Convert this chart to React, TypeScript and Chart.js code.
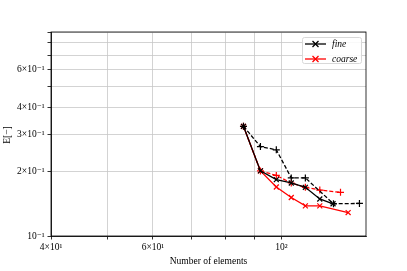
import React, { useEffect, useRef } from "react";
import { Chart, registerables } from "chart.js";

Chart.register(...registerables);

const fineSolidX = [86, 92, 98, 104, 110, 116.5, 122.8];
const fineSolidY = [0.326, 0.2016, 0.1835, 0.177, 0.169, 0.149, 0.1415];
const fineDashX = [86, 92, 98, 104, 110, 123, 136.4];
const fineDashY = [0.326, 0.262, 0.253, 0.187, 0.187, 0.1415, 0.142];
const coarseSolidX = [86, 92, 98, 104, 110, 116.5, 130.4];
const coarseSolidY = [0.326, 0.2016, 0.1695, 0.1514, 0.1384, 0.1384, 0.1287];
const coarseDashX = [86, 92, 98, 104, 110, 116.5, 126.5];
const coarseDashY = [0.326, 0.2016, 0.192, 0.177, 0.169, 0.164, 0.16];

const xTickValues = [40, 50, 60, 70, 80, 90, 100];
const xTickLabels: Record<number, string> = { 40: "4×10¹", 60: "6×10¹", 100: "10²" };
const yTickValues = [0.1, 0.2, 0.3, 0.4, 0.5, 0.6, 0.7, 0.8, 0.9];
const yTickLabels: Record<string, string> = {
  "0.1": "10⁻¹",
  "0.2": "2×10⁻¹",
  "0.3": "3×10⁻¹",
  "0.4": "4×10⁻¹",
  "0.6": "6×10⁻¹",
};
const legendLabels = ["fine", "coarse"];
const legendColors = ["#000000", "#ff0000"];
const xTitle = "Number of elements";
const yTitle = "E[−]";

const FONT = "'Liberation Serif', 'DejaVu Serif', serif";

function pts(xs: number[], ys: number[]) {
  return xs.map((x, i) => ({ x, y: ys[i] }));
}

export default function App() {
  const ref = useRef<HTMLCanvasElement>(null);
  useEffect(() => {
    const canvas = ref.current!;
    const extras = {
      id: "extras",
      afterDraw(chart: any) {
        const { ctx, chartArea: a } = chart;
        ctx.save();
        ctx.strokeStyle = "#000";
        ctx.lineWidth = 0.8;
        ctx.strokeRect(a.left, a.top, a.right - a.left, a.bottom - a.top);
        // legend
        const bx = 302.5, by = 37.5, bw = 59, bh = 26;
        ctx.fillStyle = "rgba(255,255,255,0.85)";
        ctx.strokeStyle = "#d8d8d8";
        ctx.lineWidth = 1;
        ctx.beginPath();
        (ctx as any).roundRect(bx, by, bw, bh, 2);
        ctx.fill();
        ctx.stroke();
        legendLabels.forEach((lab, i) => {
          const y = 44 + i * 15;
          ctx.strokeStyle = legendColors[i];
          ctx.lineWidth = 1.3;
          ctx.beginPath();
          ctx.moveTo(305, y);
          ctx.lineTo(326, y);
          ctx.stroke();
          const c = 315.5, r = 3;
          ctx.beginPath();
          ctx.moveTo(c - r, y - r);
          ctx.lineTo(c + r, y + r);
          ctx.moveTo(c - r, y + r);
          ctx.lineTo(c + r, y - r);
          ctx.stroke();
          ctx.fillStyle = "#000";
          ctx.font = `italic 9.5px ${FONT}`;
          ctx.textAlign = "left";
          ctx.textBaseline = "middle";
          ctx.fillText(lab, 332, y);
        });
        // titles
        ctx.fillStyle = "#000";
        ctx.font = `9.5px ${FONT}`;
        ctx.textAlign = "center";
        ctx.textBaseline = "middle";
        ctx.fillText(xTitle, (a.left + a.right) / 2, 261);
        ctx.save();
        ctx.translate(7, 135);
        ctx.rotate(-Math.PI / 2);
        ctx.fillText(yTitle, 0, 0);
        ctx.restore();
        ctx.restore();
      },
    };
    const lineDs = (label: string, data: any, color: string, dashed: boolean, style: string) => ({
      label,
      data,
      borderColor: color,
      backgroundColor: color,
      borderWidth: 1.3,
      borderDash: dashed ? [4, 2] : [],
      pointStyle: style,
      pointRadius: 3.5,
      pointBorderWidth: 1.2,
      pointBorderColor: color,
      tension: 0,
      fill: false,
    });
    const chart = new Chart(canvas, {
      type: "line",
      data: {
        datasets: [
          lineDs("fine", pts(fineSolidX, fineSolidY), "#000", false, "crossRot"),
          lineDs("fine dashed", pts(fineDashX, fineDashY), "#000", true, "cross"),
          lineDs("coarse", pts(coarseSolidX, coarseSolidY), "#ff0000", false, "crossRot"),
          lineDs("coarse dashed", pts(coarseDashX, coarseDashY), "#ff0000", true, "cross"),
        ] as any,
      },
      options: {
        responsive: false,
        animation: false,
        layout: { padding: { left: 0, right: 41, top: 32, bottom: 0 } },
        plugins: { legend: { display: false }, tooltip: { enabled: false } },
        scales: {
          x: {
            type: "logarithmic",
            min: 40,
            max: 140,
            afterBuildTicks: (s: any) => {
              s.ticks = xTickValues.map((v) => ({ value: v }));
            },
            afterFit: (s: any) => {
              s.height = 35;
            },
            ticks: {
              autoSkip: false,
              maxRotation: 0,
              padding: 2,
              color: "#000",
              font: { family: FONT, size: 9.5 },
              callback: (v: any) => xTickLabels[Number(v)] ?? "",
            },
            grid: { color: "#c8c8c8", lineWidth: 0.8, tickLength: 3.5, tickColor: "#000", tickWidth: 0.8 },
            border: { display: true, color: "#000", width: 0.8 },
          },
          y: {
            type: "logarithmic",
            min: 0.1,
            max: 0.9,
            afterBuildTicks: (s: any) => {
              s.ticks = yTickValues.map((v) => ({ value: v }));
            },
            afterFit: (s: any) => {
              s.width = 51;
            },
            ticks: {
              autoSkip: false,
              padding: 3,
              color: "#000",
              font: { family: FONT, size: 9.5 },
              callback: (v: any) => yTickLabels[String(Math.round(Number(v) * 10) / 10)] ?? "",
            },
            grid: { color: "#c8c8c8", lineWidth: 0.8, tickLength: 3.5, tickColor: "#000", tickWidth: 0.8 },
            border: { display: true, color: "#000", width: 0.8 },
          },
        },
      } as any,
      plugins: [extras],
    });
    return () => chart.destroy();
  }, []);
  return (
    <div style={{ position: "fixed", left: 0, top: 0, width: 407, height: 271, background: "#fff" }}>
      <canvas ref={ref} width={407} height={271} style={{ width: 407, height: 271 }} />
    </div>
  );
}
